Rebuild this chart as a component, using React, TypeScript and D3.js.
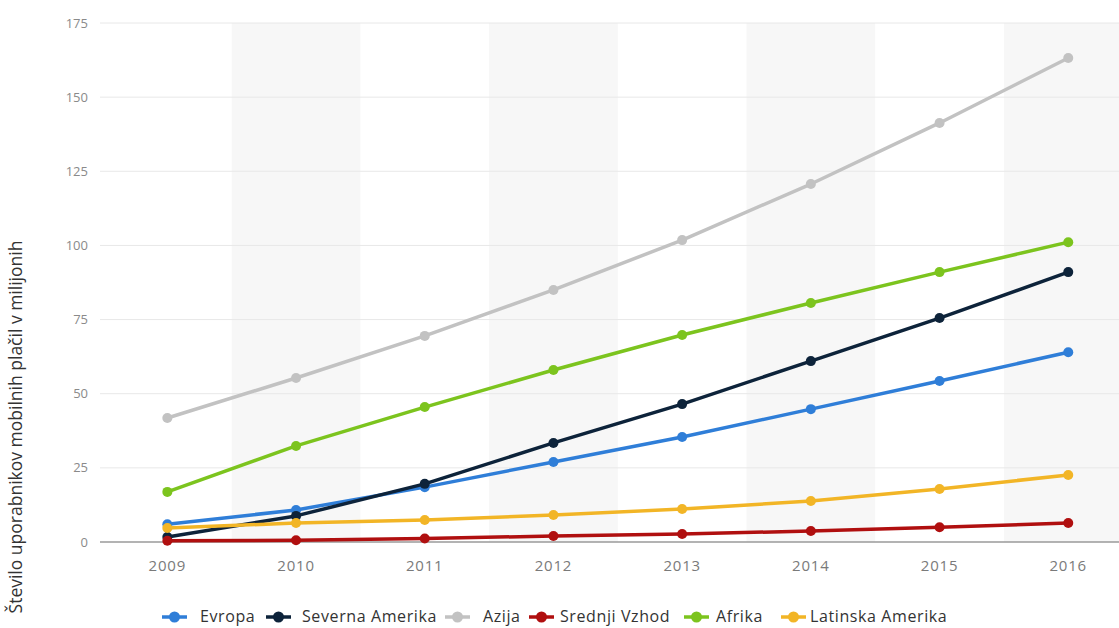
import React from "react";
import * as d3 from "d3";

const years = ["2009", "2010", "2011", "2012", "2013", "2014", "2015", "2016"];
const yTicks = [0, 25, 50, 75, 100, 125, 150, 175];

const evropa = [6, 10.8, 18.5, 27, 35.4, 44.8, 54.3, 64];
const severnaAmerika = [1.7, 8.8, 19.6, 33.4, 46.5, 61, 75.5, 91];
const azija = [41.8, 55.3, 69.5, 85, 101.8, 120.7, 141.3, 163.2];
const srednjiVzhod = [0.4, 0.6, 1.2, 2, 2.7, 3.7, 5, 6.4];
const afrika = [16.9, 32.4, 45.5, 58, 69.8, 80.6, 91, 101.1];
const latinskaAmerika = [4.7, 6.4, 7.4, 9.1, 11.1, 13.8, 17.9, 22.6];

const seriesNames = ["Evropa", "Severna Amerika", "Azija", "Srednji Vzhod", "Afrika", "Latinska Amerika"];
const seriesValues = [evropa, severnaAmerika, azija, srednjiVzhod, afrika, latinskaAmerika];
const seriesColors = ["#2f7ed8", "#0d233a", "#c2c2c2", "#b00f0f", "#7cc41e", "#f2b526"];

const W = 1119;
const H = 628;
const plotLeft = 103;
const step = 128.7;
const plotRight = plotLeft + step * years.length;
const plotTop = 23;
const plotBottom = 542;

const legendMarkerX = [162, 266, 445, 529, 684, 781];
const legendTextX = [200, 302, 483, 560, 716, 810];
const legendY = 617;

export default function App() {
  const x = d3.scaleBand<string>().domain(years).range([plotLeft, plotRight]).padding(0);
  const y = d3.scaleLinear().domain([0, 175]).range([plotBottom, plotTop]);
  const cx = (yr: string) => (x(yr) as number) + x.bandwidth() / 2;
  const line = d3
    .line<number>()
    .x((_, i) => cx(years[i]))
    .y((d) => y(d));

  return (
    <svg
      width={W}
      height={H}
      style={{ position: "absolute", left: 0, top: 0, background: "#fff" }}
      fontFamily="'Open Sans', sans-serif"
    >
      {years.map((yr, i) =>
        i % 2 === 1 ? (
          <rect key={yr} x={x(yr)} y={plotTop} width={x.bandwidth()} height={plotBottom - plotTop} fill="#f7f7f7" />
        ) : null
      )}
      {yTicks.map((t) => (
        <g key={t}>
          {t > 0 && <line x1={100} x2={W} y1={y(t)} y2={y(t)} stroke="#e8e8e8" strokeWidth={1} />}
          <text x={88} y={y(t) + 4.5} textAnchor="end" fontSize={13} fill="#8a8a8a">
            {t}
          </text>
        </g>
      ))}
      <line x1={100} x2={W} y1={plotBottom} y2={plotBottom} stroke="#9a9a9a" strokeWidth={1.5} />
      {years.map((yr) => (
        <text key={yr} x={cx(yr)} y={571} textAnchor="middle" fontSize={15} letterSpacing={0.8} fill="#7a7a7a">
          {yr}
        </text>
      ))}
      <text
        transform={`translate(22, 427) rotate(-90)`}
        textAnchor="middle"
        fontSize={17.5}
        fill="#333"
      >
        Število uporabnikov mobilnih plačil v milijonih
      </text>
      {seriesValues.map((vals, si) => (
        <g key={seriesNames[si]}>
          <path d={line(vals) || ""} fill="none" stroke={seriesColors[si]} strokeWidth={3.5} strokeLinejoin="round" />
          {vals.map((v, i) => (
            <circle key={i} cx={cx(years[i])} cy={y(v)} r={5} fill={seriesColors[si]} />
          ))}
        </g>
      ))}
      {seriesNames.map((name, si) => (
        <g key={name}>
          <line
            x1={legendMarkerX[si]}
            x2={legendMarkerX[si] + 25}
            y1={legendY}
            y2={legendY}
            stroke={seriesColors[si]}
            strokeWidth={3.5}
          />
          <circle cx={legendMarkerX[si] + 12.5} cy={legendY} r={5.5} fill={seriesColors[si]} />
          <text x={legendTextX[si]} y={legendY + 5} fontSize={16} letterSpacing={0.6} fill="#333">
            {name}
          </text>
        </g>
      ))}
    </svg>
  );
}
